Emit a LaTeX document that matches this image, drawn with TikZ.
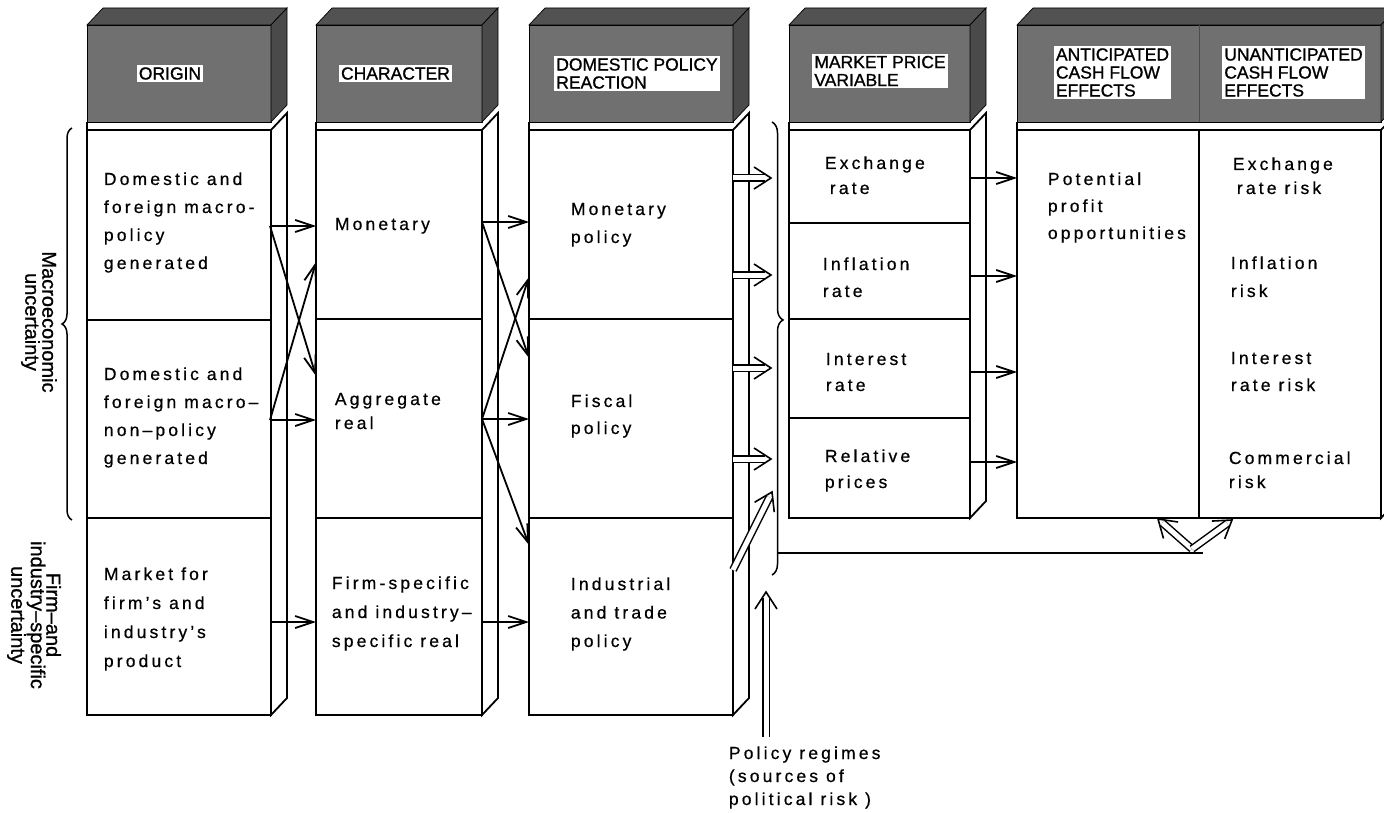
\documentclass[tikz,border=0pt]{standalone}
\usepackage{fontspec}
\setmainfont{Liberation Sans}
\newfontfamily\bodyf[LetterSpace=18,FakeBold=0.6]{Liberation Sans}
\newfontfamily\headf[FakeBold=1]{Liberation Sans}
\usetikzlibrary{arrows.meta,decorations.pathreplacing,calc}
\definecolor{hfront}{RGB}{112,112,112}
\definecolor{htop}{RGB}{82,82,82}
\definecolor{hside}{RGB}{74,74,74}
\newcommand\ml[1]{\begin{tabular}[t]{@{}l@{}}#1\end{tabular}}
\newcommand\mycolumn[3]{%
  \filldraw[fill=white] (#1,130) rectangle (#2,#3);
  \filldraw[fill=white] (#2,130) -- (#2+16,113) -- (#2+16,#3-17) -- (#2,#3) -- cycle;
  \draw (#1,122) -- (#1,130);
  \filldraw[fill=hfront,line width=0.7pt] (#1,25) rectangle (#2,122);
  \filldraw[fill=htop,line width=0.7pt] (#1,25) -- (#1+16,8) -- (#2+16,8) -- (#2,25) -- cycle;
  \filldraw[fill=hside,line width=0.7pt] (#2,25) -- (#2+16,8) -- (#2+16,105) -- (#2,122) -- cycle;
}
\newcommand\dblarrow[2]{%
  \draw[dshaft] (#1) -- (#2);
  \coordinate (tmpb) at ($(#2)!17pt!(#1)$);
  \draw[dheadline] ($(tmpb)!11pt!90:(#2)$) -- (#2) -- ($(tmpb)!11pt!-90:(#2)$);
}
\begin{document}
\begin{tikzpicture}[x=1pt,y=-1pt,line width=1.8pt,
  body/.style={anchor=base west,inner sep=0pt,font=\bodyf\fontsize{17.5}{#1}\selectfont},
  body/.default=28,
  hlabel/.style={fill=white,inner sep=2pt,align=left,font=\headf\fontsize{17.5}{18}\selectfont},
  side/.style={rotate=-90,align=center,inner sep=0pt,font=\headf\fontsize{20}{#1}\selectfont},
  arr/.style={-{Straight Barb[length=18pt,width=12pt]}},
  dshaft/.style={double,double distance=5pt,line width=1.5pt,shorten >=6pt},
  dheadline/.style={line width=1.6pt,line join=miter},
  brace/.style={decorate,decoration={brace,amplitude=#1}}]
\useasboundingbox (0,0) rectangle (1384,813);
\fill[white] (0,0) rectangle (1384,813);

% columns
\mycolumn{87}{271}{715}
\mycolumn{316}{482}{715}
\mycolumn{529}{733}{715}
\mycolumn{789}{970}{518}
\mycolumn{1017}{1381}{518}
\draw[line width=0.6pt,black!70] (1199,25) -- (1199,122);
\draw (1199,130) -- (1199,518);

% cell separators
\draw (87,320) -- (271,320) (87,518) -- (271,518);
\draw (316,319) -- (482,319) (316,518) -- (482,518);
\draw (529,319) -- (733,319) (529,518) -- (733,518);
\draw (789,223) -- (970,223) (789,319) -- (970,319) (789,418) -- (970,418);

% header labels
\node[hlabel] (hOrigin) at (170,73.5) {ORIGIN};
\node[hlabel] (hChar) at (395.5,73.5) {CHARACTER};
\node[hlabel] (hDom) at (637,73.5) {DOMESTIC POLICY\\REACTION};
\node[hlabel] (hMkt) at (880,71) {MARKET PRICE\\VARIABLE};
\node[hlabel] (hAnt) at (1112.5,72.5) {ANTICIPATED\\CASH FLOW\\EFFECTS};
\node[hlabel] (hUnant) at (1293.5,72.5) {UNANTICIPATED\\CASH FLOW\\EFFECTS};

% body texts
\node[body] (c1a) at (103,185) {\ml{Domestic and\\foreign macro-\\policy\\generated}};
\node[body] (c1b) at (103,380) {\ml{Domestic and\\foreign macro–\\non–policy\\generated}};
\node[body=29] (c1c) at (103,580) {\ml{Market for\\firm’s and\\industry’s\\product}};
\node[body] (c2a) at (334,230) {\ml{Monetary}};
\node[body=24] (c2b) at (334,405) {\ml{Aggregate\\real}};
\node[body=29] (c2c) at (331,589) {\ml{Firm-specific\\and industry–\\specific real}};
\node[body] (c3a) at (570,215) {\ml{Monetary\\policy}};
\node[body=27] (c3b) at (570,407) {\ml{Fiscal\\policy}};
\node[body=28.5] (c3c) at (570,590) {\ml{Industrial\\and trade\\policy}};
\node[body=25] (c4a) at (824,169) {\ml{Exchange\\\hspace{5pt}rate}};
\node[body=27] (c4b) at (822,270) {\ml{Inflation\\rate}};
\node[body=26] (c4c) at (825,365) {\ml{Interest\\rate}};
\node[body=26] (c4d) at (824,462) {\ml{Relative\\prices}};
\node[body=27] (c5) at (1047,185) {\ml{Potential\\profit\\opportunities}};
\node[body=24] (c6a) at (1232,170) {\ml{Exchange\\\hspace{4pt}rate risk}};
\node[body=28] (c6b) at (1230,269) {\ml{Inflation\\risk}};
\node[body=27] (c6c) at (1230,364) {\ml{Interest\\rate risk}};
\node[body=24] (c6d) at (1228,464) {\ml{Commercial\\risk}};
\node[body=23] (pr) at (728,759) {\ml{Policy regimes\\(sources of\\political risk )}};

% side labels
\node[side=17] (macro) at (39,322) {Macroeconomic\\uncertainty};
\node[side=15.5] (firm) at (34,615) {Firm–and\\industry–specific\\uncertainty};

% braces
\draw[brace=10pt,line width=1.5pt] (72,520) -- (72,128);
\draw[brace=11pt,line width=1.5pt,decoration={aspect=0.437}] (772,122) -- (772,575);

% arrow end points
\coordinate (o1) at (270,226); \coordinate (o2) at (270,420); \coordinate (o3) at (270,622);
\coordinate (ch1) at (316,226); \coordinate (ch1d) at (316,376);
\coordinate (ch2u) at (316,262); \coordinate (ch2) at (316,420); \coordinate (ch3) at (316,622);
\coordinate (k1) at (482,222); \coordinate (k2) at (482,419); \coordinate (k3) at (482,622);
\coordinate (d1) at (529,222); \coordinate (d1d) at (529,358);
\coordinate (d2u) at (529,277); \coordinate (d2) at (529,419); \coordinate (d3u) at (529,545);
\coordinate (d3) at (529,622);

\draw[arr] (o1) -- (ch1);
\draw[arr] (o1) -- (ch1d);
\draw[arr] (o2) -- (ch2u);
\draw[arr] (o2) -- (ch2);
\draw[arr] (o3) -- (ch3);
\draw[arr] (k1) -- (d1);
\draw[arr] (k1) -- (d1d);
\draw[arr] (k2) -- (d2u);
\draw[arr] (k2) -- (d2);
\draw[arr] (k2) -- (d3u);
\draw[arr] (k3) -- (d3);

% domestic policy -> market price (double arrows)
\coordinate (p1) at (733,178); \coordinate (m1) at (771,178);
\coordinate (p2) at (733,275); \coordinate (m2) at (771,275);
\coordinate (p3) at (733,368); \coordinate (m3) at (771,368);
\coordinate (p4) at (733,459); \coordinate (m4) at (771,459);
\dblarrow{p1}{m1}
\dblarrow{p2}{m2}
\dblarrow{p3}{m3}
\dblarrow{p4}{m4}
\coordinate (ind) at (733,570); \coordinate (indt) at (772,492);
\dblarrow{ind}{indt}

% market price -> cash flow
\foreach \y [count=\i] in {178,276,372,462}{
  \coordinate (q\i) at (970,\y); \coordinate (r\i) at (1017,\y);
  \draw[arr] (q\i) -- (r\i);
}

% policy regimes arrow
\coordinate (prb) at (766,737); \coordinate (prt) at (766,592);
\dblarrow{prb}{prt}

% feedback line and V arrows
\coordinate (fb0) at (777,553); \coordinate (fb1) at (1203,553);
\draw (fb0) -- (fb1);
\coordinate (vb) at (1192,549);
\coordinate (vl) at (1158,519); \coordinate (vr) at (1232,520);
\dblarrow{vb}{vl}
\dblarrow{vb}{vr}
\end{tikzpicture}
\end{document}
